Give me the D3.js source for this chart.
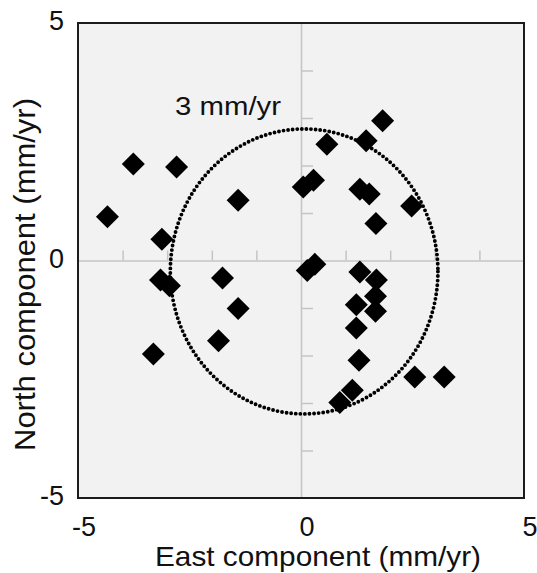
<!DOCTYPE html>
<html>
<head>
<meta charset="utf-8">
<script src="https://cdn.jsdelivr.net/npm/d3@7"></script>
<style>
  html, body { margin: 0; padding: 0; background: #fff; }
  svg { display: block; }
  text { font-family: "Liberation Sans", Arial, sans-serif; fill: #111; }
</style>
</head>
<body>
<svg id="chart" width="537" height="573"></svg>
<script>
// Site velocities (mm/yr): east and north components
const eastValues = [
  -4.34, -3.76, -2.79, -1.41, -3.12, -3.15, -2.95, -1.76, -1.41, -1.85, -3.31,
  1.83, 1.46, 0.58, 0.05, 0.28, 1.32, 1.53, 2.48, 1.68,
  0.14, 0.31, 1.32, 1.69, 1.67, 1.24, 1.67, 1.24, 1.30, 1.15, 0.87, 2.55, 3.21
];
const northValues = [
  0.92, 2.03, 1.97, 1.27, 0.45, -0.41, -0.53, -0.37, -1.01, -1.69, -1.97,
  2.94, 2.52, 2.45, 1.55, 1.69, 1.50, 1.40, 1.15, 0.78,
  -0.21, -0.08, -0.24, -0.41, -0.75, -0.93, -1.07, -1.42, -2.10, -2.73, -2.99, -2.45, -2.45
];
const axisTicks = [-5, 0, 5];
const minorTicks = [-4, -3, -2, -1, 1, 2, 3, 4];
const circleRadius = 3;            // mm/yr
const circleCenter = [0.07, -0.23];
const circleLabel = "3 mm/yr";

const svg = d3.select("#chart");
const x = d3.scaleLinear().domain([-5, 5]).range([78, 524]);
const y = d3.scaleLinear().domain([-5, 5]).range([498, 23]);

// plot area
svg.append("rect")
  .attr("x", x(-5)).attr("y", y(5))
  .attr("width", x(5) - x(-5)).attr("height", y(-5) - y(5))
  .attr("fill", "#f2f2f2");

// zero lines with small ticks
const hAxis = svg.append("g")
  .attr("transform", `translate(0,${y(0)})`)
  .call(d3.axisTop(x).tickValues(minorTicks).tickSize(10).tickSizeOuter(0).tickFormat(""));
const vAxis = svg.append("g")
  .attr("transform", `translate(${x(0)},0)`)
  .call(d3.axisRight(y).tickValues(minorTicks).tickSize(12).tickSizeOuter(0).tickFormat(""));
[hAxis, vAxis].forEach(g => {
  g.selectAll("path, line").attr("stroke", "#c4c4c4").attr("stroke-width", 1.5);
});

// dotted reference circle
svg.append("ellipse")
  .attr("cx", x(circleCenter[0]))
  .attr("cy", y(circleCenter[1]))
  .attr("rx", x(circleRadius) - x(0))
  .attr("ry", y(0) - y(circleRadius))
  .attr("fill", "none")
  .attr("stroke", "#000")
  .attr("stroke-width", 3.9)
  .attr("stroke-linecap", "round")
  .attr("stroke-dasharray", "0 4.6");

svg.append("text")
  .attr("x", 175).attr("y", 115)
  .attr("font-size", 25)
  .attr("textLength", 106).attr("lengthAdjust", "spacingAndGlyphs")
  .text(circleLabel);

// diamonds
const pts = eastValues.map((e, i) => ({ e, n: northValues[i] }));
const h = 11.5;
svg.append("g").selectAll("path")
  .data(pts)
  .join("path")
  .attr("d", d => {
    const cx = x(d.e), cy = y(d.n);
    return `M${cx},${cy - h}L${cx + h},${cy}L${cx},${cy + h}L${cx - h},${cy}Z`;
  })
  .attr("fill", "#000");

// frame
svg.append("rect")
  .attr("x", x(-5)).attr("y", y(5))
  .attr("width", x(5) - x(-5)).attr("height", y(-5) - y(5))
  .attr("fill", "none")
  .attr("stroke", "#1c1c1c")
  .attr("stroke-width", 2);

// tick labels
svg.append("g").selectAll("text")
  .data(axisTicks)
  .join("text")
  .attr("x", d => x(d) + 6)
  .attr("y", 536)
  .attr("text-anchor", "middle")
  .attr("font-size", 27)
  .text(d => d);

svg.append("g").selectAll("text")
  .data(axisTicks)
  .join("text")
  .attr("x", 64)
  .attr("y", d => y(d) + 7)
  .attr("text-anchor", "end")
  .attr("font-size", 27)
  .text(d => d);

// axis titles
svg.append("text")
  .attr("x", 155).attr("y", 566)
  .attr("font-size", 28)
  .attr("textLength", 326).attr("lengthAdjust", "spacingAndGlyphs")
  .text("East component (mm/yr)");

svg.append("text")
  .attr("transform", "translate(35,451) rotate(-90)")
  .attr("x", 0).attr("y", 0)
  .attr("font-size", 30)
  .attr("textLength", 353).attr("lengthAdjust", "spacingAndGlyphs")
  .text("North component (mm/yr)");
</script>
</body>
</html>
